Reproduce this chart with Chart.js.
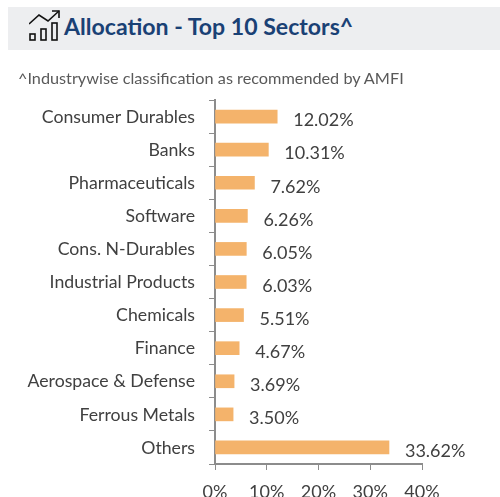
<!DOCTYPE html>
<html>
<head>
<meta charset="utf-8">
<script src="https://cdn.jsdelivr.net/npm/chart.js@4"></script>
<style>
    html, body { margin: 0; padding: 0; background: #fff; overflow: hidden; }
    #page { position: relative; width: 500px; height: 497px; overflow: hidden; }
    #band { position: absolute; left: 8px; top: 7px; width: 492px; height: 43px; background: #edeef0; }
    #band svg { position: absolute; left: 21px; top: 2px; }
    #title { position: absolute; left: 56px; top: 5px; font: 700 23.1px Lato, sans-serif; color: #1a4175; white-space: nowrap; }
    #note { position: absolute; left: 18px; top: 68px; font: 400 16.25px Lato, sans-serif; color: #595959; white-space: nowrap; }
    #chart { position: absolute; left: 0; top: 0; }
</style>
</head>
<body>
<div id="page">
    <canvas id="chart" width="500" height="497"></canvas>
    <div id="band">
        <svg width="32" height="34" viewBox="0 0 32 34" fill="none" stroke="#111" stroke-width="1.6">
            <rect x="1" y="25" width="5" height="6"/>
            <rect x="12" y="20" width="5" height="11"/>
            <rect x="23" y="14" width="5" height="17"/>
            <path d="M0 15 L10 6 L19 12 L30 2"/>
            <path d="M23 2 L30 2 L30 9"/>
        </svg>
        <div id="title">Allocation - Top 10 Sectors^</div>
    </div>
    <div id="note">^Industrywise classification as recommended by AMFI</div>
</div>
<script>
// Données
const sectors = ['Consumer Durables', 'Banks', 'Pharmaceuticals', 'Software', 'Cons. N-Durables',
    'Industrial Products', 'Chemicals', 'Finance', 'Aerospace & Defense', 'Ferrous Metals', 'Others'];
const allocation = [12.02, 10.31, 7.62, 6.26, 6.05, 6.03, 5.51, 4.67, 3.69, 3.50, 33.62];
const xTicks = [0, 10, 20, 30, 40];

// Étiquettes de valeur à droite des barres
const valueLabels = {
    id: 'valueLabels',
    afterDatasetsDraw(chart) {
        const ctx = chart.ctx;
        const meta = chart.getDatasetMeta(0);
        ctx.save();
        ctx.font = '400 18px Lato, sans-serif';
        ctx.fillStyle = '#404040';
        ctx.textBaseline = 'middle';
        meta.data.forEach((bar, i) => {
            ctx.fillText(allocation[i].toFixed(2) + '%', bar.x + 16, bar.y + 4);
        });
        ctx.restore();
    }
};

new Chart(document.getElementById('chart'), {
    type: 'bar',
    data: {
        labels: sectors,
        datasets: [{
            data: allocation,
            backgroundColor: '#f4b36b',
            barThickness: 13
        }]
    },
    options: {
        indexAxis: 'y',
        responsive: false,
        animation: false,
        layout: { padding: { top: 100, right: 78, bottom: 0, left: 0 } },
        plugins: { legend: { display: false }, tooltip: { enabled: false } },
        scales: {
            x: {
                min: 0,
                max: 40,
                afterBuildTicks(axis) { axis.ticks = xTicks.map(v => ({ value: v })); },
                afterFit(axis) { axis.height = 33; },
                grid: { drawOnChartArea: false, color: '#8c8c8c', tickLength: 6, tickColor: '#8c8c8c' },
                border: { color: '#8c8c8c', width: 2 },
                ticks: {
                    callback: v => v + '%',
                    color: '#404040',
                    font: { family: 'Lato, sans-serif', size: 18, weight: '400' },
                    padding: 11,
                    maxRotation: 0
                }
            },
            y: {
                afterFit(axis) { axis.width = 215; },
                grid: { drawOnChartArea: false, offset: true, color: '#8c8c8c', tickLength: 6, tickColor: '#8c8c8c' },
                border: { color: '#8c8c8c', width: 2 },
                ticks: {
                    color: '#404040',
                    font: { family: 'Lato, sans-serif', size: 17.7, weight: '400' },
                    padding: 14,
                    labelOffset: 0.5,
                    autoSkip: false
                }
            }
        }
    },
    plugins: [valueLabels]
});
</script>
</body>
</html>
